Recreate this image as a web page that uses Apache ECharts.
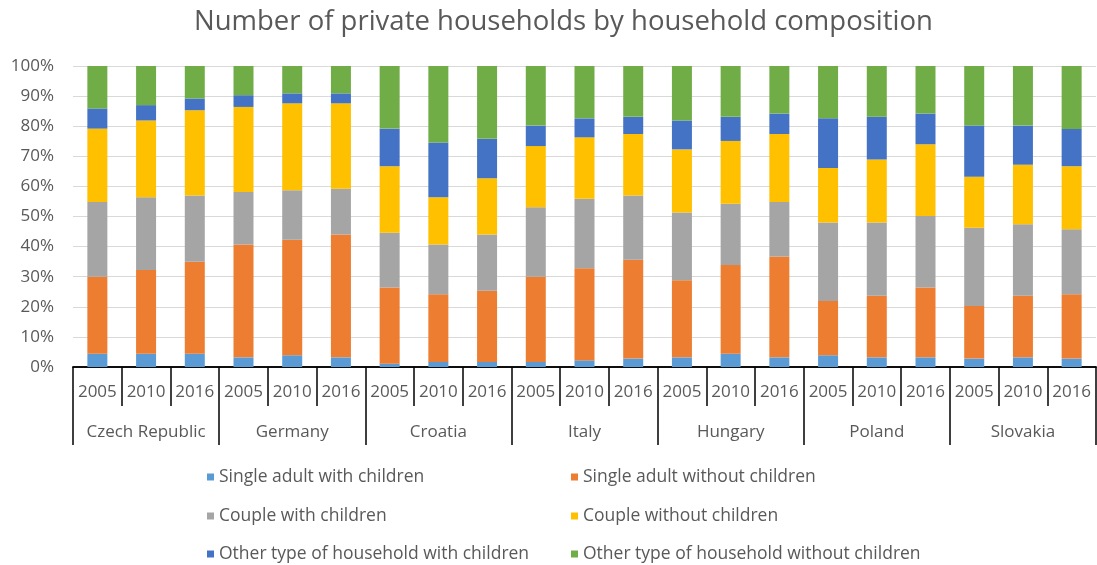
<!DOCTYPE html>
<html>
<head>
<meta charset="utf-8">
<title>Number of private households by household composition</title>
<script src="https://cdn.jsdelivr.net/npm/echarts@6/dist/echarts.min.js"></script>
<style>
  html, body { margin: 0; padding: 0; background: #ffffff; }
  #chart { width: 1097px; height: 565px; }
</style>
</head>
<body>
<div id="chart"></div>
<script>
// Country groups and survey years (two-level category axis)
const countries = ['Czech Republic', 'Germany', 'Croatia', 'Italy', 'Hungary', 'Poland', 'Slovakia'];
const years = ['2005', '2010', '2016'];

// Share of households (%) per country/year, in order CZ, DE, HR, IT, HU, PL, SK × 2005/2010/2016
const singleWithChildren = [4.4, 4.4, 4.4, 3.2, 3.9, 3.2, 1.1, 1.7, 1.7, 1.7, 2.2, 2.8, 3.2, 4.4, 3.2, 3.9, 3.2, 3.2, 2.8, 3.2, 2.8];
const singleWithoutChildren = [25.6, 27.8, 30.6, 37.5, 38.4, 40.8, 25.3, 22.5, 23.6, 28.3, 30.6, 32.8, 25.6, 29.5, 33.5, 18.0, 20.5, 23.2, 17.5, 20.5, 21.4];
const coupleWithChildren = [24.8, 24.2, 22.0, 17.4, 16.4, 15.2, 18.2, 16.5, 18.7, 23.1, 23.1, 21.4, 22.5, 20.3, 18.1, 26.1, 24.3, 23.8, 26.0, 23.7, 21.6];
const coupleWithoutChildren = [24.4, 25.5, 28.3, 28.3, 28.9, 28.4, 22.1, 15.7, 18.7, 20.3, 20.4, 20.4, 21.0, 20.9, 22.6, 18.1, 20.9, 23.8, 16.9, 19.8, 20.9];
const otherWithChildren = [6.7, 5.1, 3.9, 3.9, 3.3, 3.3, 12.5, 18.2, 13.1, 6.8, 6.3, 5.7, 9.6, 8.0, 6.8, 16.5, 14.2, 10.2, 17.0, 13.0, 12.4];
const otherWithoutChildren = [14.1, 13.0, 10.8, 9.7, 9.1, 9.1, 20.8, 25.4, 24.2, 19.8, 17.4, 16.9, 18.1, 16.9, 15.8, 17.4, 16.9, 15.8, 19.8, 19.8, 20.9];

const yTicks = [0, 10, 20, 30, 40, 50, 60, 70, 80, 90, 100];

const seriesDefs = [
  { name: 'Single adult with children', data: singleWithChildren, color: '#5b9bd5' },
  { name: 'Single adult without children', data: singleWithoutChildren, color: '#ed7d31' },
  { name: 'Couple with children', data: coupleWithChildren, color: '#a5a5a5' },
  { name: 'Couple without children', data: coupleWithoutChildren, color: '#ffc000' },
  { name: 'Other type of household with children', data: otherWithChildren, color: '#4472c4' },
  { name: 'Other type of household without children', data: otherWithoutChildren, color: '#70ad47' }
];

// Year label for every bar, repeated per country
const yearLabels = [];
countries.forEach(() => years.forEach(y => yearLabels.push(y)));

const FONT = '"Open Sans", "Noto Sans", sans-serif';
const TEXT = '#595959';

// Legend laid out as two columns of three rows, one entry per legend block
const legendCols = [202, 566];
const legendRows = [462, 501, 539];
const legends = seriesDefs.map((s, i) => ({
  orient: 'horizontal',
  left: legendCols[i % 2],
  top: legendRows[Math.floor(i / 2)],
  itemWidth: 7,
  itemHeight: 7,
  icon: 'rect',
  data: [s.name],
  textStyle: { fontFamily: FONT, fontSize: 17.5, color: TEXT, lineHeight: 20 }
}));

const chart = echarts.init(document.getElementById('chart'), null, { renderer: 'canvas' });

chart.setOption({
  animation: false,
  backgroundColor: '#ffffff',
  textStyle: { fontFamily: FONT },
  title: {
    text: 'Number of private households by household composition',
    left: 189,
    top: 3,
    textStyle: { fontFamily: FONT, fontSize: 27.5, fontWeight: 'normal', color: TEXT }
  },
  legend: legends,
  grid: { left: 73, right: 1, top: 66, bottom: 198, containLabel: false },
  xAxis: [
    {
      type: 'category',
      position: 'bottom',
      data: yearLabels,
      axisLine: { show: true, lineStyle: { color: '#000000', width: 1.5 } },
      axisTick: { show: true, interval: 0, length: 39, lineStyle: { color: '#000000', width: 1.5 } },
      axisLabel: { interval: 0, margin: 17, fontFamily: FONT, fontSize: 17, color: TEXT }
    },
    {
      type: 'category',
      position: 'bottom',
      data: countries,
      axisLine: { show: true, lineStyle: { color: '#000000', width: 1.5 } },
      axisTick: { show: true, interval: 0, length: 78, lineStyle: { color: '#000000', width: 1.5 } },
      axisLabel: { interval: 0, margin: 57, fontFamily: FONT, fontSize: 17, color: TEXT }
    }
  ],
  yAxis: {
    type: 'value',
    min: 0,
    max: 100,
    interval: 10,
    axisLine: { show: false },
    axisTick: { show: false },
    splitLine: { show: true, lineStyle: { color: '#d9d9d9', width: 1 } },
    axisLabel: {
      margin: 19,
      fontFamily: FONT,
      fontSize: 17,
      color: TEXT,
      formatter: v => (yTicks.indexOf(v) >= 0 ? v + '%' : '')
    }
  },
  series: seriesDefs.map(s => ({
    name: s.name,
    type: 'bar',
    stack: 'total',
    xAxisIndex: 0,
    barWidth: 20,
    data: s.data,
    itemStyle: { color: s.color }
  }))
});
</script>
</body>
</html>
